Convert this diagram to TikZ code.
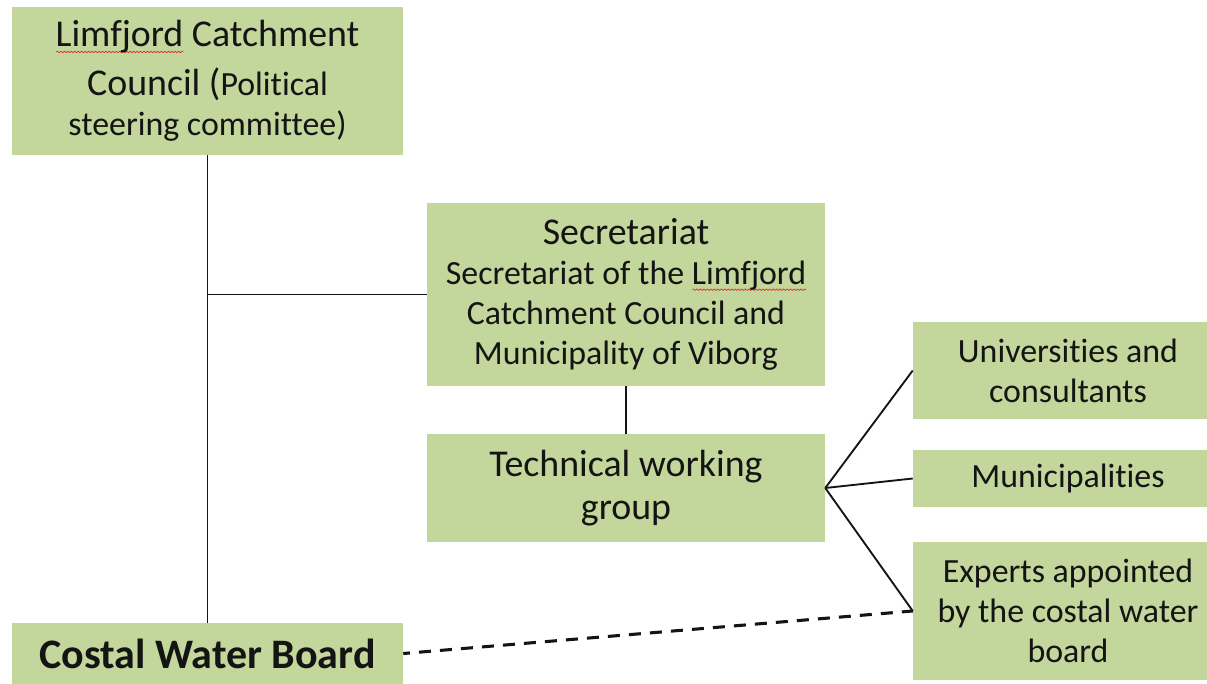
\documentclass[tikz,border=0pt]{standalone}
\usepackage{fontspec}
\setmainfont{Carlito}[Ligatures={NoCommon,NoRare,NoDiscretionary}]
\usetikzlibrary{decorations.pathmorphing}

\definecolor{boxgreen}{RGB}{195,214,155}
\definecolor{ink}{RGB}{20,20,20}
\definecolor{spellred}{RGB}{225,40,40}

% wavy red underline beneath a word
\newlength\spellw
\newcommand\spellmark[1]{\settowidth\spellw{#1}%
  \rlap{\tikz[overlay,baseline=0pt]\draw[spellred,line width=0.5pt,decorate,
    decoration={snake,amplitude=0.55pt,segment length=2.6pt}] (0.5pt,-3.8pt) -- (\spellw,-3.8pt);}#1}

\newcommand\txs{\fontsize{25.4}{30}\selectfont}
\newcommand\txl{\fontsize{28.4}{32.5}\selectfont}
\newcommand\txb{\fontsize{31.5}{36}\selectfont\bfseries}

\begin{document}
\begin{tikzpicture}[x=0.75pt,y=-0.75pt,
  box/.style={fill=boxgreen,text=ink,align=center,inner sep=0pt,font=\txs},
  wide/.style={minimum width=293.25pt},
  mid/.style={minimum width=298.5pt},
  side/.style={minimum width=232.5pt},
  link/.style={draw=ink,line width=1.4pt},
  dashlink/.style={draw=ink,line width=2.3pt,dash pattern=on 9pt off 6.8pt,dash phase=4pt}]
\useasboundingbox (0,0) rectangle (1207,684);

% boxes (the right-hand column runs past the page edge)
\node[box,wide,minimum height=111pt] (council) at (207.5,81)
  {{\txl\spellmark{Limfjord} Catchment}\\[6.5pt]{\txl Council (}Political\\steering committee)};
\node[box,mid,minimum height=137.25pt] (secr) at (626,294.5)
  {{\txl Secretariat}\\Secretariat of the \spellmark{Limfjord}\\Catchment Council and\\Municipality of Viborg};
\node[box,mid,minimum height=81pt,font=\txl] (tech) at (626,488)
  {Technical working\\group};
\node[box,side,minimum height=72.75pt] (univ) at (1068,370.5)
  {Universities and\\consultants};
\node[box,side,minimum height=42.75pt] (muni) at (1068,478.5)
  {Municipalities};
\node[box,side,minimum height=103.5pt] (expert) at (1068,611)
  {Experts appointed\\by the costal water\\board};
\node[box,wide,minimum height=45.75pt,font=\txb] (board) at (207.5,653.5)
  {Costal Water Board};

% connectors
\coordinate (junction) at (council.south |- secr.west);
\draw[link] (council.south) -- (board.north);
\draw[link] (junction) -- (secr.west);
\draw[link] (secr.south) -- (tech.north);
\draw[link] (tech.east) -- (univ.west);
\draw[link] (tech.east) -- (muni.west);
\draw[link] (tech.east) -- (expert.west);
\draw[dashlink] (board.east) -- (expert.west);
\end{tikzpicture}
\end{document}
